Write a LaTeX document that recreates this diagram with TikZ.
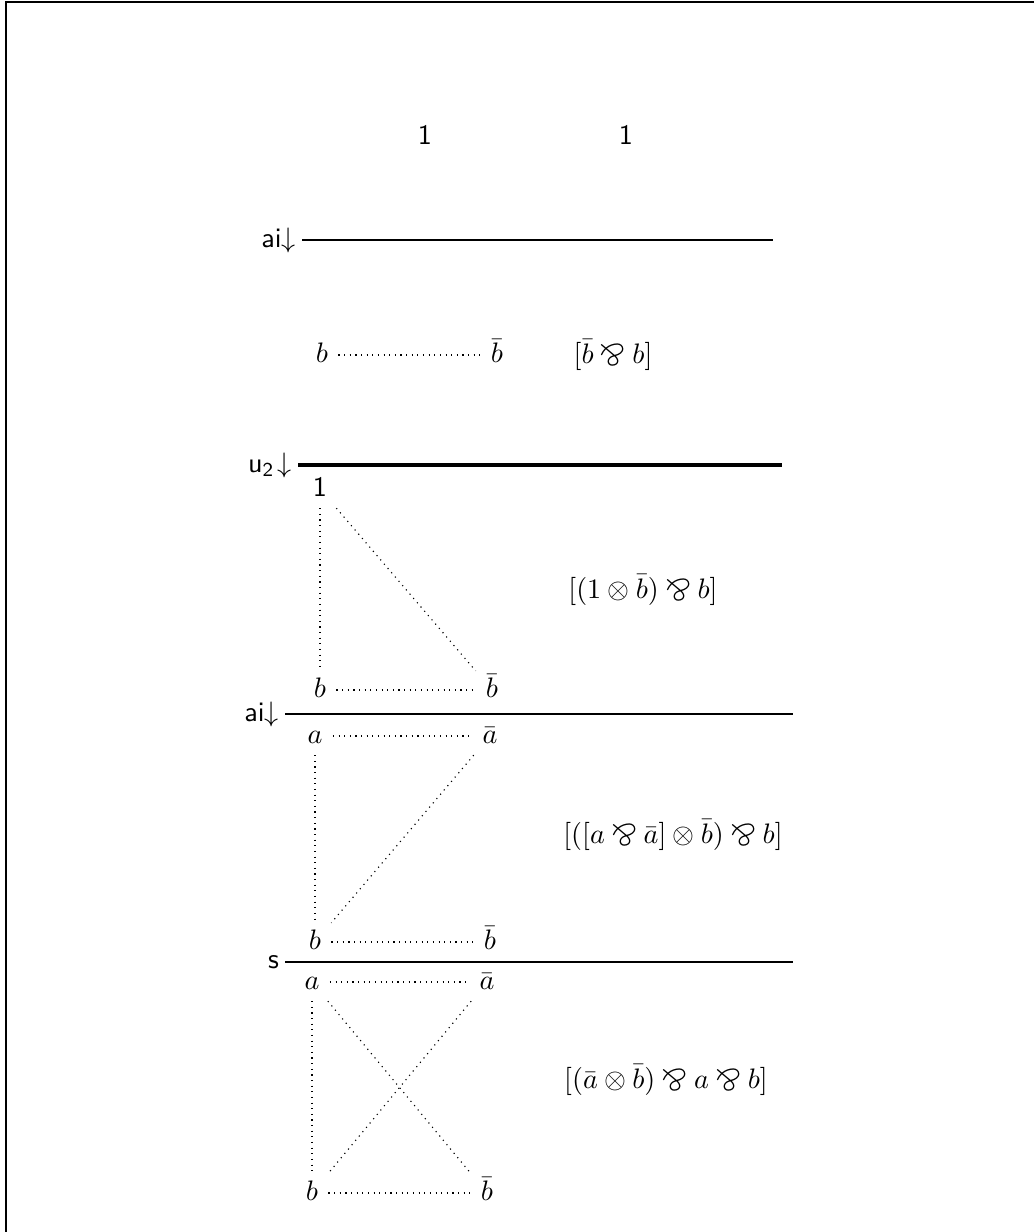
\documentclass[tikz,border=0pt]{standalone}
\usepackage{amsmath,amssymb}
\usepackage{stmaryrd}
\usepackage{graphicx}
\usepackage{tikz}
\usetikzlibrary{positioning}

\newcommand{\lpar}{\mathbin{\scalebox{1.2}{$\bindnasrepma$}}}

\tikzset{
  atom/.style={inner xsep=3.5pt,inner ysep=2.5pt,text height=1.6ex,text depth=.3ex},
  link/.style={line width=.4pt,dash pattern=on .4pt off 1.6pt},
  rulelab/.style={anchor=east,inner xsep=2pt,inner ysep=1pt,font=\sffamily},
  infrule/.style={line width=.8pt},
}

\begin{document}
\begin{tikzpicture}[x=.355pt,y=-.355pt]
  \useasboundingbox (0,0) rectangle (1034,1232);
  \draw[line width=.75pt] (6,1232) -- (6,2) -- (1034,2);

  % premises
  \node[font=\sffamily] (one1) at (425,135) {1};
  \node[font=\sffamily] (one2) at (626,135) {1};

  % ai
  \node[rulelab] (r1) at (302,240) {ai$\downarrow$};
  \coordinate (r1e) at (773,240);
  \draw[infrule] (r1.east) -- (r1e);

  \node[atom] (b1) at (322,355) {$b$};
  \node[atom] (bb1) at (497,355) {$\bar b$};
  \draw[link] (b1) -- (bb1);
  \node (f1) at (613,355) {$[\bar b \lpar b]$};

  % u2
  \node[rulelab] (r2) at (298,465) {$\mathsf{u}_{\mathsf{2}}\!\downarrow$};
  \coordinate (r2e) at (782,465);
  \draw[infrule,line width=1.2pt] (r2.east) -- (r2e);

  \node[atom,font=\sffamily] (one3) at (320,489) {1};
  \node[atom] (b2) at (320,690) {$b$};
  \node[atom] (bb2) at (492,690) {$\bar b$};
  \draw[link] (one3) -- (b2);
  \draw[link] (one3) -- (bb2);
  \draw[link] (b2) -- (bb2);
  \node (f2) at (643,590) {$[(1\otimes\bar b)\lpar b]$};

  % ai
  \node[rulelab] (r3) at (285,714) {ai$\downarrow$};
  \coordinate (r3e) at (793,714);
  \draw[infrule] (r3.east) -- (r3e);

  \node[atom] (a3) at (315,736) {$a$};
  \node[atom] (aa3) at (490,736) {$\bar a$};
  \node[atom] (b3) at (315,942) {$b$};
  \node[atom] (bb3) at (490,942) {$\bar b$};
  \draw[link] (a3) -- (aa3);
  \draw[link] (a3) -- (b3);
  \draw[link] (aa3) -- (b3);
  \draw[link] (b3) -- (bb3);
  \node (f3) at (673,835) {$[([a\lpar\bar a]\otimes\bar b)\lpar b]$};

  % s
  \node[rulelab] (r4) at (285,962) {s};
  \coordinate (r4e) at (793,962);
  \draw[infrule] (r4.east) -- (r4e);

  \node[atom] (a4) at (312,982) {$a$};
  \node[atom] (aa4) at (487,982) {$\bar a$};
  \node[atom] (b4) at (312,1193) {$b$};
  \node[atom] (bb4) at (487,1193) {$\bar b$};
  \draw[link] (a4) -- (aa4);
  \draw[link] (a4) -- (b4);
  \draw[link] (a4) -- (bb4);
  \draw[link] (aa4) -- (b4);
  \draw[link] (b4) -- (bb4);
  \node (f4) at (666,1080) {$[(\bar a\otimes\bar b)\lpar a\lpar b]$};
\end{tikzpicture}
\end{document}
